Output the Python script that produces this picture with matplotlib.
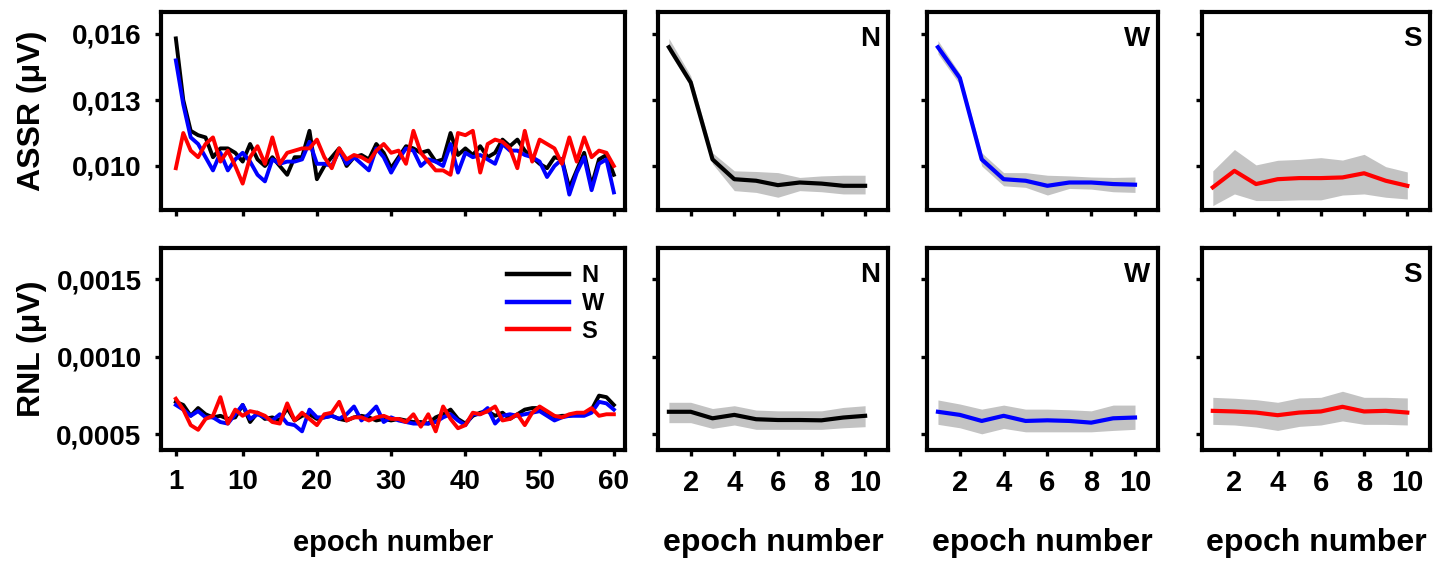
import numpy as np
import matplotlib
matplotlib.use("Agg")
import matplotlib.pyplot as plt

plt.rcParams['font.family'] = ['Liberation Sans', 'DejaVu Sans']
plt.rcParams['font.weight'] = 'bold'

NARROW = ['Liberation Sans Narrow', 'Liberation Sans', 'DejaVu Sans']

# ---- data: 60-epoch traces (left panels) ----
epochs = np.arange(1, 61)

assr_N = [0.0158, 0.0130, 0.0116, 0.0114, 0.0113, 0.0104, 0.0108, 0.0108, 0.0106, 0.0102,
          0.0110, 0.0103, 0.0100, 0.0104, 0.0100, 0.0096, 0.0104, 0.0104, 0.0116, 0.0094,
          0.0100, 0.0104, 0.0108, 0.0100, 0.0104, 0.0105, 0.0103, 0.0110, 0.0106, 0.0099,
          0.0104, 0.0109, 0.0108, 0.0106, 0.0107, 0.0102, 0.0103, 0.0115, 0.0105, 0.0108,
          0.0105, 0.0109, 0.0104, 0.0106, 0.0112, 0.0109, 0.0112, 0.0107, 0.0104, 0.0101,
          0.0099, 0.0104, 0.0103, 0.0090, 0.0098, 0.0106, 0.0091, 0.0103, 0.0105, 0.0096]
assr_W = [0.0148, 0.0128, 0.0113, 0.0110, 0.0104, 0.0098, 0.0106, 0.0098, 0.0103, 0.0106,
          0.0102, 0.0096, 0.0093, 0.0103, 0.0101, 0.0102, 0.0102, 0.0103, 0.0111, 0.0101,
          0.0101, 0.0100, 0.0107, 0.0101, 0.0104, 0.0101, 0.0098, 0.0108, 0.0104, 0.0097,
          0.0103, 0.0108, 0.0107, 0.0100, 0.0103, 0.0102, 0.0100, 0.0110, 0.0097, 0.0106,
          0.0104, 0.0105, 0.0103, 0.0101, 0.0110, 0.0107, 0.0107, 0.0105, 0.0104, 0.0102,
          0.0095, 0.0100, 0.0103, 0.0087, 0.0097, 0.0104, 0.0089, 0.0101, 0.0103, 0.0088]
assr_S = [0.0099, 0.0115, 0.0107, 0.0104, 0.0110, 0.0113, 0.0102, 0.0107, 0.0100, 0.0092,
          0.0104, 0.0109, 0.0101, 0.0113, 0.0101, 0.0106, 0.0107, 0.0108, 0.0108, 0.0112,
          0.0104, 0.0099, 0.0108, 0.0103, 0.0105, 0.0104, 0.0102, 0.0107, 0.0110, 0.0106,
          0.0107, 0.0101, 0.0116, 0.0106, 0.0102, 0.0098, 0.0098, 0.0096, 0.0115, 0.0114,
          0.0116, 0.0097, 0.0110, 0.0112, 0.0111, 0.0108, 0.0099, 0.0116, 0.0102, 0.0112,
          0.0110, 0.0108, 0.0101, 0.0113, 0.0102, 0.0113, 0.0104, 0.0107, 0.0106, 0.0100]

rnl_N = [0.00071, 0.00069, 0.00062, 0.00067, 0.00063, 0.00061, 0.00062, 0.00060, 0.00061, 0.00069,
         0.00058, 0.00064, 0.00060, 0.00061, 0.00059, 0.00067, 0.00059, 0.00062, 0.00063, 0.00060,
         0.00061, 0.00062, 0.00060, 0.00059, 0.00061, 0.00062, 0.00061, 0.00059, 0.00060, 0.00059,
         0.00060, 0.00059, 0.00058, 0.00058, 0.00057, 0.00061, 0.00063, 0.00066, 0.00060, 0.00057,
         0.00062, 0.00064, 0.00065, 0.00062, 0.00064, 0.00060, 0.00063, 0.00066, 0.00067, 0.00067,
         0.00064, 0.00061, 0.00062, 0.00062, 0.00063, 0.00063, 0.00066, 0.00075, 0.00074, 0.00069]
rnl_W = [0.00069, 0.00066, 0.00062, 0.00065, 0.00061, 0.00061, 0.00058, 0.00057, 0.00063, 0.00069,
         0.00060, 0.00063, 0.00061, 0.00059, 0.00063, 0.00057, 0.00056, 0.00052, 0.00066, 0.00061,
         0.00061, 0.00062, 0.00060, 0.00063, 0.00068, 0.00059, 0.00063, 0.00068, 0.00058, 0.00061,
         0.00059, 0.00058, 0.00057, 0.00057, 0.00057, 0.00058, 0.00061, 0.00063, 0.00059, 0.00056,
         0.00063, 0.00063, 0.00067, 0.00057, 0.00062, 0.00063, 0.00062, 0.00063, 0.00064, 0.00065,
         0.00062, 0.00059, 0.00061, 0.00062, 0.00062, 0.00062, 0.00064, 0.00071, 0.00070, 0.00066]
rnl_S = [0.00073, 0.00066, 0.00056, 0.00053, 0.00060, 0.00062, 0.00074, 0.00057, 0.00066, 0.00062,
         0.00065, 0.00064, 0.00062, 0.00058, 0.00057, 0.00070, 0.00059, 0.00064, 0.00060, 0.00056,
         0.00063, 0.00064, 0.00071, 0.00059, 0.00061, 0.00061, 0.00059, 0.00061, 0.00062, 0.00060,
         0.00060, 0.00058, 0.00063, 0.00055, 0.00063, 0.00052, 0.00068, 0.00060, 0.00054, 0.00056,
         0.00064, 0.00063, 0.00065, 0.00068, 0.00059, 0.00060, 0.00063, 0.00056, 0.00064, 0.00068,
         0.00065, 0.00062, 0.00061, 0.00063, 0.00064, 0.00064, 0.00067, 0.00062, 0.00063, 0.00063]

# ---- data: 10-epoch averages with spread (small panels) ----
ep10 = np.arange(1, 11)

assr_N_mean = [0.0154, 0.0138, 0.0103, 0.0094, 0.00933, 0.00913, 0.00925, 0.0092, 0.0091, 0.0091]
assr_N_hi = [0.0158, 0.0141, 0.0106, 0.00978, 0.00975, 0.0097, 0.00948, 0.00955, 0.00958, 0.00958]
assr_N_lo = [0.0152, 0.0136, 0.0101, 0.00888, 0.0088, 0.00858, 0.00888, 0.00883, 0.00873, 0.00873]

assr_W_mean = [0.0154, 0.0140, 0.0103, 0.0094, 0.00933, 0.0091, 0.00925, 0.00925, 0.00918, 0.00915]
assr_W_hi = [0.0157, 0.0142, 0.0106, 0.0097, 0.0097, 0.00958, 0.00955, 0.0095, 0.00948, 0.0095]
assr_W_lo = [0.0151, 0.0137, 0.0100, 0.0091, 0.00903, 0.00868, 0.00898, 0.00895, 0.00883, 0.0088]

assr_S_mean = [0.00903, 0.00978, 0.00918, 0.0094, 0.00945, 0.00945, 0.00948, 0.00967, 0.00933, 0.0091]
assr_S_hi = [0.00978, 0.01075, 0.01005, 0.01026, 0.0103, 0.01038, 0.01027, 0.01053, 0.00997, 0.00973]
assr_S_lo = [0.0082, 0.00873, 0.00843, 0.00843, 0.00846, 0.00846, 0.00868, 0.00873, 0.00858, 0.0085]

rnl_N_mean = [0.000646, 0.000646, 0.000604, 0.000626, 0.000598, 0.000593, 0.000593, 0.000591, 0.000609, 0.00062]
rnl_N_hi = [0.000707, 0.000707, 0.000667, 0.000685, 0.000657, 0.000652, 0.000652, 0.000652, 0.000674, 0.000685]
rnl_N_lo = [0.000576, 0.000576, 0.000539, 0.000561, 0.000533, 0.000533, 0.000533, 0.000533, 0.000543, 0.00055]

rnl_W_mean = [0.000646, 0.000626, 0.000587, 0.00062, 0.000587, 0.000591, 0.000587, 0.000576, 0.000604, 0.000609]
rnl_W_hi = [0.000722, 0.000696, 0.000663, 0.000689, 0.000663, 0.000663, 0.000659, 0.000652, 0.000689, 0.000689]
rnl_W_lo = [0.000565, 0.000543, 0.000504, 0.000539, 0.000517, 0.000517, 0.000517, 0.000517, 0.000526, 0.000533]

rnl_S_mean = [0.000652, 0.000648, 0.000641, 0.000624, 0.000641, 0.000648, 0.000678, 0.000648, 0.000652, 0.000641]
rnl_S_hi = [0.000739, 0.000733, 0.000724, 0.000707, 0.000735, 0.000739, 0.000778, 0.000739, 0.000739, 0.000735]
rnl_S_lo = [0.000565, 0.000561, 0.000548, 0.000526, 0.000552, 0.000561, 0.000587, 0.000565, 0.000565, 0.000561]

assr_ticks = [0.010, 0.013, 0.016]
assr_ticklabels = ['0,010', '0,013', '0,016']
rnl_ticks = [0.0005, 0.0010, 0.0015]
rnl_ticklabels = ['0,0005', '0,0010', '0,0015']
long_xticks = [1, 10, 20, 30, 40, 50, 60]
short_xticks = [2, 4, 6, 8, 10]

colors = {'N': '#000000', 'W': '#0000ff', 'S': '#ff0000'}
BAND = '#c3c3c3'

W_PX, H_PX = 1436, 563
fig = plt.figure(figsize=(W_PX / 100, H_PX / 100), dpi=100)


def px_axes(x0, x1, y0, y1):
    # y0 = top pixel, y1 = bottom pixel
    return fig.add_axes([x0 / W_PX, 1 - y1 / H_PX, (x1 - x0) / W_PX, (y1 - y0) / H_PX])


def style(ax):
    for sp in ax.spines.values():
        sp.set_linewidth(3)
    ax.tick_params(direction='out', length=4, width=2.4, labelsize=20, pad=10)


rows = [(12, 210), (248, 450)]
cols = [(161, 625), (658, 888), (927, 1158), (1202, 1430)]

long_data = [
    (assr_N, assr_W, assr_S),
    (rnl_N, rnl_W, rnl_S),
]
short_data = [
    {'N': (assr_N_mean, assr_N_lo, assr_N_hi),
     'W': (assr_W_mean, assr_W_lo, assr_W_hi),
     'S': (assr_S_mean, assr_S_lo, assr_S_hi)},
    {'N': (rnl_N_mean, rnl_N_lo, rnl_N_hi),
     'W': (rnl_W_mean, rnl_W_lo, rnl_W_hi),
     'S': (rnl_S_mean, rnl_S_lo, rnl_S_hi)},
]
ylims = [(0.008, 0.017), (0.0004, 0.0017)]
yticks = [assr_ticks, rnl_ticks]
yticklabels = [assr_ticklabels, rnl_ticklabels]
ylabels = ['ASSR (\u03bcV)', 'RNL (\u03bcV)']

for r, (top, bot) in enumerate(rows):
    # long panel
    ax = px_axes(cols[0][0], cols[0][1], top, bot)
    for key, series in zip(['N', 'W', 'S'], long_data[r]):
        ax.plot(epochs, series, color=colors[key], lw=2.8, label=key)
    ax.set_xlim(-1, 61.5)
    ax.set_ylim(*ylims[r])
    ax.set_yticks(yticks[r])
    ax.set_yticklabels(yticklabels[r])
    ax.set_xticks(long_xticks)
    style(ax)
    ax.set_ylabel(ylabels[r], fontsize=23, fontweight='bold')
    ax.yaxis.set_label_coords(-0.245, 0.5)
    if r == 0:
        ax.set_xticklabels([])
    else:
        ax.set_xlabel('epoch number', fontsize=21, fontweight='bold', labelpad=24)
        leg = ax.legend(loc='upper right', bbox_to_anchor=(0.985, 0.99), frameon=False,
                        fontsize=17, handlelength=2.6, handletextpad=0.55,
                        labelspacing=0.2, borderaxespad=0.2)
        for t in leg.get_texts():
            t.set_fontweight('bold')
        for ln in leg.get_lines():
            ln.set_linewidth(3.2)

    # short panels
    for c, key in enumerate(['N', 'W', 'S']):
        ax = px_axes(cols[c + 1][0], cols[c + 1][1], top, bot)
        mean, lo, hi = short_data[r][key]
        ax.fill_between(ep10, lo, hi, color=BAND, lw=0)
        ax.plot(ep10, mean, color=colors[key], lw=3)
        ax.set_xlim(0.5, 11.05)
        ax.set_ylim(*ylims[r])
        ax.set_yticks(yticks[r])
        ax.set_yticklabels([])
        ax.set_xticks(short_xticks)
        style(ax)
        ax.text(0.965, 0.93, key, transform=ax.transAxes, ha='right', va='top',
                fontsize=20, fontweight='bold', family=NARROW)
        if r == 0:
            ax.set_xticklabels([])
        else:
            ax.set_xticklabels([str(t) for t in short_xticks], family=NARROW, fontsize=21)
            ax.set_xlabel('epoch number', fontsize=23, fontweight='bold', family=NARROW,
                          labelpad=22)

fig.savefig('out.png', dpi=100)
